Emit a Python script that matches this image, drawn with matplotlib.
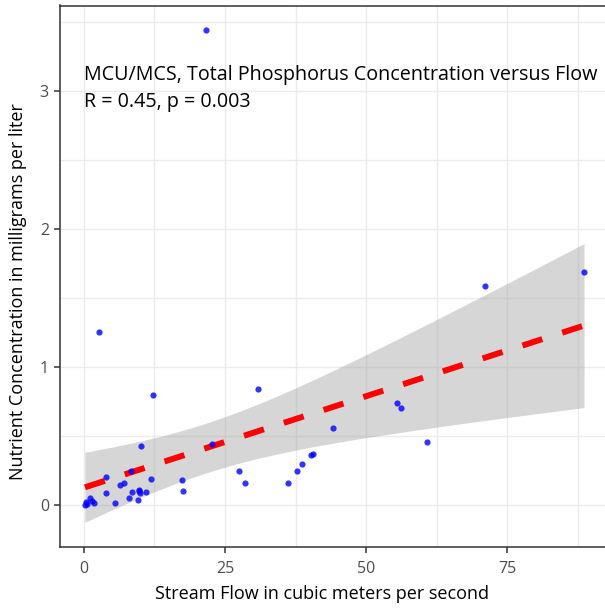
import numpy as np
import matplotlib
matplotlib.use("Agg")
import matplotlib.pyplot as plt
from matplotlib.ticker import MultipleLocator

# stream flow (m3/s) and total phosphorus (mg/L)
flow = [21.7, 2.6, 12.2, 71.1, 88.6, 55.4, 56.2, 60.7, 30.9, 44.2,
        40.6, 40.2, 38.7, 37.8, 36.2, 27.4, 28.5, 17.4, 17.6, 22.7,
        10.2, 4.0, 8.4, 11.9, 6.4, 7.2, 3.9, 8.5, 9.8, 11.0,
        9.95, 8.0, 9.6, 5.6, 1.1, 1.8, 0.2, 0.6, 0.3, 1.4, 9.7]
phos = [3.44, 1.25, 0.80, 1.59, 1.69, 0.74, 0.70, 0.46, 0.84, 0.56,
        0.37, 0.36, 0.30, 0.25, 0.16, 0.25, 0.16, 0.18, 0.10, 0.44,
        0.43, 0.20, 0.25, 0.19, 0.145, 0.16, 0.09, 0.095, 0.11, 0.095,
        0.085, 0.048, 0.035, 0.018, 0.05, 0.018, 0.0, 0.01, 0.02, 0.03, 0.10]

title_txt = "MCU/MCS, Total Phosphorus Concentration versus Flow"
stat_txt = "R = 0.45, p = 0.003"
x_ticks = [0, 25, 50, 75]
y_ticks = [0, 1, 2, 3]

plt.rcParams["font.family"] = ["Open Sans", "DejaVu Sans"]

x = np.array(flow)
y = np.array(phos)
n = len(x)

# linear fit + 95% band, like geom_smooth(method = "lm")
slope, icpt = np.polyfit(x, y, 1)
xs = np.linspace(x.min(), x.max(), 80)
fit = icpt + slope * xs
resid = y - (icpt + slope * x)
s = np.sqrt(np.sum(resid ** 2) / (n - 2))
sxx = np.sum((x - x.mean()) ** 2)
se = s * np.sqrt(1 / n + (xs - x.mean()) ** 2 / sxx)
tcrit = 2.023
lo, hi = fit - tcrit * se, fit + tcrit * se

fig = plt.figure(figsize=(6.05, 6.10), dpi=100)
ax = fig.add_axes([60 / 605, 63 / 610, 549 / 605, 541.5 / 610])

ax.fill_between(xs, lo, hi, color="#999999", alpha=0.4, lw=0, zorder=2)
ax.plot(xs, fit, color="red", lw=4.3, linestyle=(0, (3.5, 3.5)),
        dash_capstyle="butt", zorder=3)
ax.scatter(x, y, s=20, color="blue", alpha=0.8, lw=0, zorder=4)

ax.text(0, 3.076, title_txt, fontsize=14.2, color="black", ha="left", va="baseline")
ax.text(0, 2.885, stat_txt, fontsize=14.2, color="black", ha="left", va="baseline")

xr = x.max() - x.min()
ax.set_xlim(x.min() - 0.05 * xr, x.max() + 0.05 * xr)
ylo, yhi = min(lo.min(), y.min()), max(hi.max(), y.max())
yr = yhi - ylo
ax.set_ylim(ylo - 0.05 * yr, yhi + 0.05 * yr)

ax.set_xticks(x_ticks)
ax.set_yticks(y_ticks)
ax.xaxis.set_minor_locator(MultipleLocator(12.5))
ax.yaxis.set_minor_locator(MultipleLocator(0.5))
ax.grid(which="both", color="#EBEBEB", lw=1.0, zorder=0)
ax.set_axisbelow(True)
ax.tick_params(which="minor", length=0)
ax.tick_params(which="major", length=4, width=1.1, color="#333333",
               labelcolor="#4D4D4D", labelsize=11.5)
ax.tick_params(axis="x", pad=6)
ax.tick_params(axis="y", pad=4)

for sp in ax.spines.values():
    sp.set_color("#333333")
    sp.set_linewidth(1.1)
# the panel runs past the right edge of the picture
ax.spines["right"].set_visible(False)

ax.set_xlabel("Stream Flow in cubic meters per second", fontsize=13)
ax.set_ylabel("Nutrient Concentration in milligrams per liter", fontsize=13)
# label centres as placed in the reference
ax.xaxis.set_label_coords((322 - 60) / 549, -(594 - 547) / 541.5, transform=ax.transAxes)
ax.xaxis.label.set_va("center")
ax.yaxis.set_label_coords(-(60 - 18) / 549, (547 - 292) / 541.5, transform=ax.transAxes)
ax.yaxis.label.set_va("center")

fig.savefig("out.png", dpi=100)
